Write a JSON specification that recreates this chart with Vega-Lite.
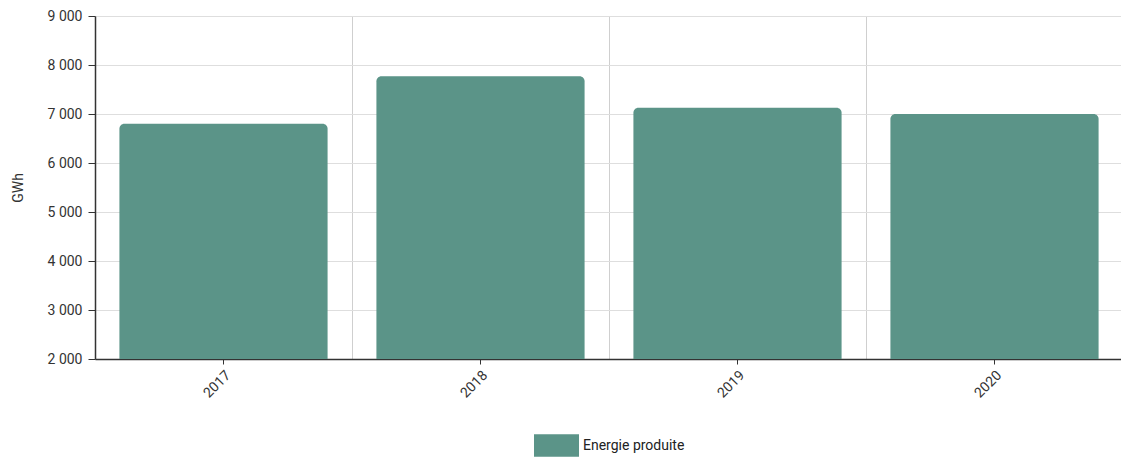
{
  "$schema": "https://vega.github.io/schema/vega-lite/v6.json",
  "width": 1028,
  "height": 343,
  "autosize": "none",
  "padding": {"left": 95, "top": 16, "right": 0, "bottom": 100},
  "background": "white",
  "config": {
    "view": {"stroke": null},
    "font": "Roboto",
    "axis": {"labelFont": "Roboto", "titleFont": "Roboto", "labelColor": "#333333", "titleColor": "#333333"},
    "legend": {"labelFont": "Roboto", "layout": {"bottom": {"anchor": "middle"}}}
  },
  "data": {
    "values": [
      {"annee": "2017", "energie": 6800, "serie": "Energie produite"},
      {"annee": "2018", "energie": 7770, "serie": "Energie produite"},
      {"annee": "2019", "energie": 7130, "serie": "Energie produite"},
      {"annee": "2020", "energie": 7000, "serie": "Energie produite"}
    ]
  },
  "layer": [
    {
      "mark": {"type": "bar", "opacity": 0},
      "encoding": {
        "x": {
          "field": "annee", "type": "nominal",
          "scale": {"paddingInner": 0, "paddingOuter": 0},
          "axis": {"orient": "top", "grid": true, "tickBand": "extent", "labels": false, "ticks": false, "domain": false, "title": null, "gridColor": "#cfcfcf", "gridWidth": 1}
        },
        "y": {
          "field": "energie", "type": "quantitative",
          "scale": {"domain": [2000, 9000], "zero": false, "nice": false},
          "title": "GWh"
        },
        "y2": {"datum": 2000}
      }
    },
    {
      "mark": {"type": "bar", "cornerRadiusTopLeft": 5, "cornerRadiusTopRight": 5},
      "encoding": {
        "x": {
          "field": "annee", "type": "nominal",
          "scale": {"paddingInner": 0.19, "paddingOuter": 0.095},
          "axis": {"orient": "bottom", "grid": false, "title": null, "labelAngle": -45, "labelFontSize": 14, "tickSize": 5, "tickColor": "#333333", "domainColor": "#333333", "domainWidth": 1.5, "labelPadding": 4}
        },
        "y": {
          "field": "energie", "type": "quantitative",
          "scale": {"domain": [2000, 9000], "zero": false, "nice": false},
          "axis": {
            "values": [2000, 3000, 4000, 5000, 6000, 7000, 8000, 9000],
            "labelExpr": "replace(format(datum.value, ',d'), ',', ' ')",
            "labelFontSize": 14, "tickSize": 7, "tickColor": "#333333", "domainColor": "#333333", "domainWidth": 1.5,
            "gridColor": "#dedede", "grid": true, "labelPadding": 6,
            "titleFontSize": 14, "titleFontWeight": "normal", "titlePadding": 22
          },
          "title": "GWh"
        },
        "y2": {"datum": 2000},
        "color": {
          "field": "serie", "type": "nominal",
          "scale": {"range": ["#5b9488"]},
          "legend": {
            "title": null, "orient": "bottom", "direction": "horizontal",
            "symbolType": "M-1,-0.5H1V0.5H-1Z", "symbolSize": 2025, "symbolStrokeWidth": 0,
            "symbolOpacity": 1, "labelFontSize": 14, "labelColor": "#222222", "offset": 22
          }
        }
      }
    }
  ],
  "resolve": {"axis": {"x": "independent"}, "scale": {"x": "independent"}}
}
